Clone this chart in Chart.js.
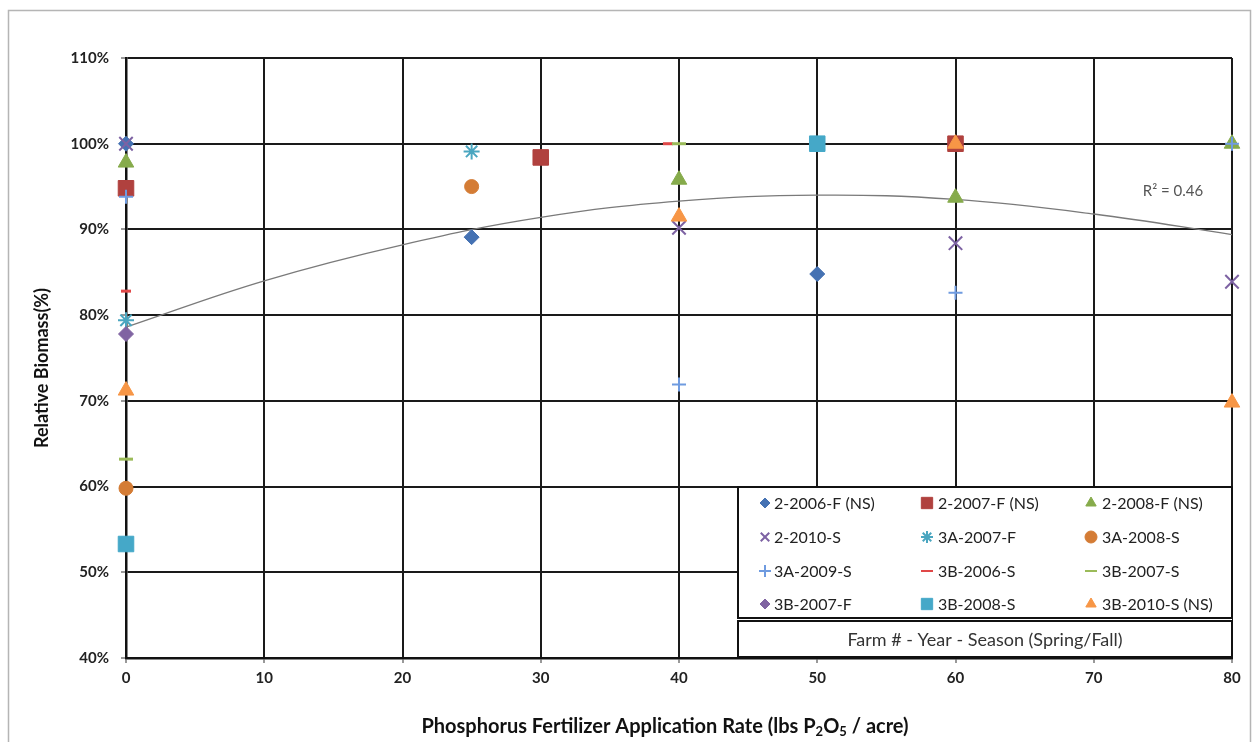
<!DOCTYPE html>
<html>
<head>
<meta charset="utf-8">
<script src="https://cdn.jsdelivr.net/npm/chart.js@4.4.1/dist/chart.umd.min.js"></script>
<style>
  html, body { margin: 0; padding: 0; background: #fff; }
  #wrap { width: 1257px; height: 742px; position: relative; }
</style>
</head>
<body>
<div id="wrap"><canvas id="myChart" width="1257" height="742" style="width:1257px;height:742px"></canvas></div>
<script>
// axis ticks
const xTicks = [0, 10, 20, 30, 40, 50, 60, 70, 80];
const yTicks = [40, 50, 60, 70, 80, 90, 100, 110];

// Farm # - Year - Season, x = P2O5 rate (lbs/acre), y = relative biomass (%)
const x_2_2006_F = [0, 25, 50];
const y_2_2006_F = [100, 89.1, 84.8];
const x_2_2007_F = [0, 30, 60];
const y_2_2007_F = [94.8, 98.4, 100];
const x_2_2008_F = [0, 40, 60, 80];
const y_2_2008_F = [97.8, 95.8, 93.7, 100];
const x_2_2010_S = [0, 40, 60, 80];
const y_2_2010_S = [100, 90.2, 88.4, 83.9];
const x_3A_2007_F = [0, 25];
const y_3A_2007_F = [79.4, 99.1];
const x_3A_2008_S = [0, 25];
const y_3A_2008_S = [59.8, 95.0];
const x_3A_2009_S = [0, 40, 60, 80];
const y_3A_2009_S = [93.8, 71.9, 82.6, 100];
const x_3B_2006_S = [0, 39.2];
const y_3B_2006_S = [82.8, 100];
const x_3B_2007_S = [0, 40];
const y_3B_2007_S = [63.2, 100];
const x_3B_2007_F = [0];
const y_3B_2007_F = [77.8];
const x_3B_2008_S = [0, 50];
const y_3B_2008_S = [53.3, 100];
const x_3B_2010_S = [0, 40, 60, 80];
const y_3B_2010_S = [71.2, 91.5, 100, 69.8];

// polynomial trendline
const trendX = [0, 10, 20, 30, 40, 50, 60, 70, 80];
const trendY = [78.6, 84.0, 88.2, 91.4, 93.3, 94.0, 93.5, 91.8, 89.4];
const rSquared = '0.46';

const FONT = 'Lato, "Open Sans", sans-serif';

function pts(xs, ys) {
    return xs.map((x, i) => ({ x: x, y: ys[i] }));
}

const series = [
    ['2-2006-F (NS)', x_2_2006_F, y_2_2006_F, 'rectRot', '#4572b3', 7.5, 1],
    ['2-2007-F (NS)', x_2_2007_F, y_2_2007_F, 'rect', '#b0413e', 11, 1],
    ['2-2008-F (NS)', x_2_2008_F, y_2_2008_F, 'triangle', '#86ab4b', 9, 1],
    ['2-2010-S', x_2_2010_S, y_2_2010_S, 'crossRot', '#7d62a3', 9.5, 2],
    ['3A-2007-F', x_3A_2007_F, y_3A_2007_F, 'star', '#4aa6c0', 8, 2],
    ['3A-2008-S', x_3A_2008_S, y_3A_2008_S, 'circle', '#d47c35', 7, 1],
    ['3A-2009-S', x_3A_2009_S, y_3A_2009_S, 'cross', '#6f9be0', 7, 2],
    ['3B-2006-S', x_3B_2006_S, y_3B_2006_S, 'line', '#e04848', 5, 3],
    ['3B-2007-S', x_3B_2007_S, y_3B_2007_S, 'line', '#9bbb59', 7, 3],
    ['3B-2007-F', x_3B_2007_F, y_3B_2007_F, 'rectRot', '#8064a2', 7.5, 1],
    ['3B-2008-S', x_3B_2008_S, y_3B_2008_S, 'rect', '#45a8c8', 11, 1],
    ['3B-2010-S (NS)', x_3B_2010_S, y_3B_2010_S, 'triangle', '#f79646', 9, 1]
];

const datasets = series.map((s, i) => ({
    type: 'scatter',
    label: s[0],
    data: pts(s[1], s[2]),
    pointStyle: s[3],
    backgroundColor: s[4],
    borderColor: s[4],
    pointRadius: s[5],
    pointHoverRadius: s[5],
    borderWidth: s[6],
    clip: false,
    order: 20 - i
}));

datasets.push({
    type: 'line',
    label: 'trend',
    data: pts(trendX, trendY),
    borderColor: '#7a7a7a',
    borderWidth: 1.3,
    pointRadius: 0,
    tension: 0.4,
    fill: false,
    clip: false,
    order: 50
});

const extras = {
    id: 'extras',
    beforeDraw(chart) {
        const ctx = chart.ctx;
        ctx.save();
        ctx.fillStyle = '#fff';
        ctx.fillRect(0, 0, chart.width, chart.height);
        ctx.strokeStyle = '#b5b5b5';
        ctx.lineWidth = 1.5;
        ctx.strokeRect(8.5, 10.5, 1242, 800);
        ctx.restore();
    },
    afterDraw(chart) {
        const ctx = chart.ctx;
        ctx.save();

        // axis titles
        ctx.fillStyle = '#111';
        ctx.textBaseline = 'middle';
        ctx.font = 'bold 18px ' + FONT;
        ctx.save();
        ctx.translate(42, 368);
        ctx.rotate(-Math.PI / 2);
        ctx.textAlign = 'center';
        ctx.fillText('Relative Biomass(%)', 0, 0);
        ctx.restore();

        const parts = [
            ['Phosphorus Fertilizer Application Rate (lbs P', false],
            ['2', true], ['O', false], ['5', true], [' / acre)', false]
        ];
        const big = 'bold 20px ' + FONT, small = 'bold 13px ' + FONT;
        let w = 0;
        parts.forEach(p => { ctx.font = p[1] ? small : big; w += ctx.measureText(p[0]).width; });
        let tx = 665 - w / 2;
        ctx.textAlign = 'left';
        parts.forEach(p => {
            ctx.font = p[1] ? small : big;
            ctx.fillText(p[0], tx, p[1] ? 732 : 727);
            tx += ctx.measureText(p[0]).width;
        });

        // R squared label
        ctx.font = '15px ' + FONT;
        ctx.fillStyle = '#555';
        ctx.textAlign = 'center';
        ctx.fillText('R² = ' + rSquared, 1173, 191);

        // legend boxes
        const L = 738, R = 1232;
        ctx.fillStyle = '#fff';
        ctx.fillRect(L, 487, R - L, 170);
        ctx.strokeStyle = '#111';
        ctx.lineWidth = 2;
        ctx.strokeRect(L, 487, R - L, 131);
        ctx.strokeRect(L, 621, R - L, 36);

        const colMark = [765, 927, 1091];
        const colText = [774, 938, 1102];
        const rowY = [503, 537, 571, 604];
        ctx.textAlign = 'left';
        ctx.font = '16px ' + FONT;
        series.forEach((s, i) => {
            const c = i % 3, r = Math.floor(i / 3);
            const ds = chart.data.datasets[i];
            ctx.save();
            ctx.fillStyle = ds.backgroundColor;
            ctx.strokeStyle = ds.borderColor;
            ctx.lineWidth = Math.min(ds.borderWidth, 2);
            Chart.helpers.drawPoint(ctx, {
                pointStyle: ds.pointStyle,
                radius: s[3] === 'rect' ? 8 : (s[3] === 'rectRot' ? 5 : 6),
                rotation: 0,
                borderWidth: ctx.lineWidth
            }, colMark[c], rowY[r]);
            ctx.restore();
            ctx.fillStyle = '#222';
            ctx.fillText(s[0], colText[c], rowY[r] + 1);
        });
        ctx.textAlign = 'center';
        ctx.fillStyle = '#333';
        ctx.font = '18px ' + FONT;
        ctx.fillText('Farm # - Year - Season (Spring/Fall)', (L + R) / 2, 640);
        ctx.restore();
    }
};

new Chart(document.getElementById('myChart'), {
    type: 'scatter',
    data: { datasets: datasets },
    options: {
        responsive: false,
        animation: false,
        layout: { padding: { top: 58, right: 25, left: 0, bottom: 0 } },
        plugins: {
            legend: { display: false },
            tooltip: { enabled: false }
        },
        scales: {
            x: {
                type: 'linear',
                min: 0,
                max: 80,
                afterBuildTicks: (scale) => { scale.ticks = xTicks.map(v => ({ value: v })); },
                afterFit: (scale) => { scale.height = 84; },
                ticks: {
                    color: '#222',
                    padding: 6,
                    font: { family: FONT, size: 15, weight: 'bold' }
                },
                grid: { color: '#1a1a1a', lineWidth: 2, tickColor: '#999', tickLength: 5 },
                border: { color: '#111', width: 2.5 }
            },
            y: {
                min: 40,
                max: 110,
                afterBuildTicks: (scale) => { scale.ticks = yTicks.map(v => ({ value: v })); },
                afterFit: (scale) => { scale.width = 126; },
                ticks: {
                    color: '#222',
                    padding: 12,
                    callback: (v) => v + '%',
                    font: { family: FONT, size: 15, weight: 'bold' }
                },
                grid: { color: '#1a1a1a', lineWidth: 2, tickColor: '#999', tickLength: 5 },
                border: { color: '#111', width: 2.5 }
            }
        }
    },
    plugins: [extras]
});
</script>
</body>
</html>
